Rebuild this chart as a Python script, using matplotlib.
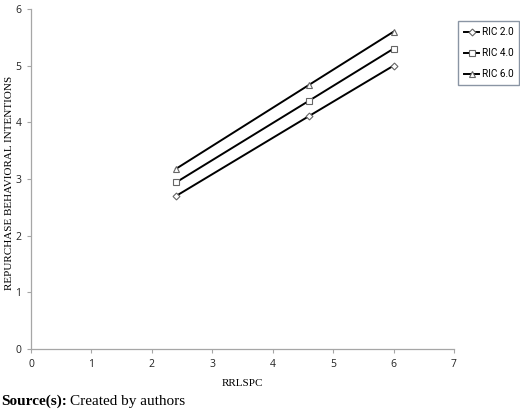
import matplotlib
matplotlib.use("Agg")
import matplotlib.pyplot as plt

x_vals = [2.4, 4.6, 6.0]
ric2 = [2.70, 4.11, 5.00]
ric4 = [2.94, 4.38, 5.30]
ric6 = [3.18, 4.66, 5.60]
series_labels = ["RIC 2.0", "RIC 4.0", "RIC 6.0"]
x_ticks = [0, 1, 2, 3, 4, 5, 6, 7]
y_ticks = [0, 1, 2, 3, 4, 5, 6]

W, H = 520, 412
fig = plt.figure(figsize=(W / 100, H / 100), dpi=100)
ax = fig.add_axes([31 / W, 63 / H, 423 / W, 340 / H])

markers = ["D", "s", "^"]
msizes = [3.5, 5, 5]
for ys, lab, m, ms in zip([ric2, ric4, ric6], series_labels, markers, msizes):
    ax.plot(x_vals, ys, color="black", lw=1.4, marker=m, ms=ms,
            mfc="white", mec="#666666", mew=0.8, label=lab)

ax.set_xlim(0, 7)
ax.set_ylim(0, 6)
ax.set_xticks(x_ticks)
ax.set_yticks(y_ticks)
for s in ["top", "right"]:
    ax.spines[s].set_visible(False)
for s in ["left", "bottom"]:
    ax.spines[s].set_color("#a6a6a6")
    ax.spines[s].set_linewidth(0.9)
ax.tick_params(colors="#a6a6a6", length=3, width=0.8, labelcolor="#222222",
               labelsize=7.5, pad=4)
for t in ax.get_xticklabels() + ax.get_yticklabels():
    t.set_fontfamily("Open Sans")

ax.set_xlabel("RRLSPC", fontfamily="Liberation Serif", fontsize=8, labelpad=7)
fig.text(10 / W, 1 - 183 / H, "REPURCHASE BEHAVIORAL INTENTIONS",
         rotation=90, ha="center", va="center",
         fontfamily="Liberation Serif", fontsize=8)

leg = fig.legend(loc="upper left", bbox_to_anchor=(458 / W, 1 - 21 / H),
                 borderaxespad=0, fancybox=False, frameon=True,
                 prop={"family": "Roboto", "size": 7.2},
                 handlelength=1.5, handletextpad=0.25, labelspacing=1.1,
                 borderpad=0.6)
leg.get_frame().set_edgecolor("#6d7b8d")
leg.get_frame().set_linewidth(1.0)

t1 = fig.text(1 / W, 1 - 405 / H, "Source(s):", fontfamily="Liberation Serif",
              fontsize=11, fontweight="bold", va="baseline", ha="left")
fig.canvas.draw()
bb = t1.get_window_extent()
fig.text((bb.x1 + 3) / W, 1 - 405 / H, "Created by authors",
         fontfamily="Liberation Serif", fontsize=11, va="baseline", ha="left")

fig.savefig("out.png", dpi=100)
